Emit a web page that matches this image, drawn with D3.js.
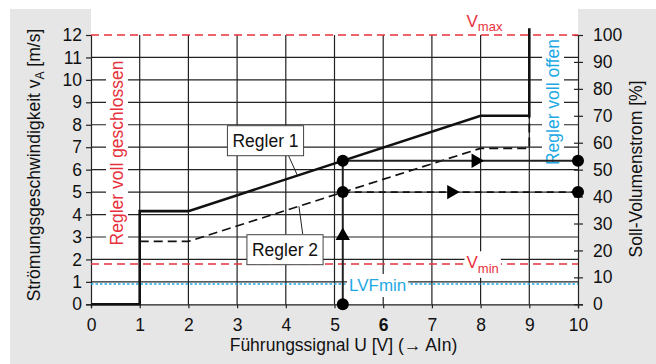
<!DOCTYPE html>
<html lang="de">
<head>
<meta charset="UTF-8">
<title>Regler-Kennlinie</title>
<style>
  body { margin: 0; background: #fff; }
  svg text { font-family: "Liberation Sans", Arial, sans-serif; }
</style>
</head>
<body>
<script src="https://cdn.jsdelivr.net/npm/d3@7"></script>
<div id="chart"></div>
<script>
// values
var signalTicks = d3.range(0, 11);          // U [V]
var speedTicks = d3.range(0, 13);           // v [m/s]
var percentTicks = d3.range(0, 101, 10);    // Soll-Volumenstrom [%]
var regler1U = [0, 1, 1, 2, 8, 9, 9];
var regler1V = [0, 0, 4.15, 4.15, 8.4, 8.4, 12.3];
var regler2U = [1, 2, 8, 9, 9];
var regler2V = [2.8, 2.8, 6.95, 6.95, 8.4];
var vMax = 12, vMin = 1.8, lvfMin = 0.9;
var exampleU = 5.17, exampleV1 = 6.4, exampleV2 = 5.0;

var red = "#e8303c", blue = "#1fa9e4", gridColor = "#222";

var W = 656, H = 364;
var x = d3.scaleLinear().domain([0, 10]).range([91, 578]);
var y = d3.scaleLinear().domain([0, 12]).range([304.3, 35]);
var yR = d3.scaleLinear().domain([0, 100]).range([304.3, 35]);

var svg = d3.select("#chart").append("svg")
    .attr("width", W).attr("height", H);

// backgrounds
svg.append("rect").attr("x", 10).attr("y", 9).attr("width", W - 10).attr("height", H - 9)
    .attr("fill", "#e6e6e6");
svg.append("rect").attr("x", x(0)).attr("y", 9).attr("width", x(10) - x(0)).attr("height", y(0) - 9)
    .attr("fill", "#fff");

// grid
var grid = svg.append("g").attr("stroke", gridColor).attr("stroke-width", 1.2);
grid.selectAll(".gx").data(signalTicks.slice(1, 10)).enter().append("line")
    .attr("x1", d => x(d)).attr("x2", d => x(d))
    .attr("y1", y(0)).attr("y2", y(12));
grid.selectAll(".gy").data(speedTicks.slice(1, 12)).enter().append("line")
    .attr("x1", x(0)).attr("x2", x(10))
    .attr("y1", d => y(d)).attr("y2", d => y(d));

// axes
var fs = "17.5px";
var axL = svg.append("g").attr("transform", "translate(" + x(0) + ",0)")
    .call(d3.axisLeft(y).tickValues(speedTicks).tickSize(5).tickPadding(4));
var axR = svg.append("g").attr("transform", "translate(" + x(10) + ",0)")
    .call(d3.axisRight(yR).tickValues(percentTicks).tickSize(5).tickPadding(10));
axR.selectAll(".tick line").attr("x1", -4);
var axB = svg.append("g").attr("transform", "translate(0," + y(0) + ")")
    .call(d3.axisBottom(x).tickValues(signalTicks).tickSize(4).tickPadding(10));
[axL, axR, axB].forEach(function (a) {
    a.select(".domain").attr("stroke", gridColor).attr("stroke-width", 1.2);
    a.selectAll(".tick line").attr("stroke", gridColor).attr("stroke-width", 1.2);
    a.selectAll("text").attr("font-size", fs).attr("fill", "#111")
        .style("font-family", '"Liberation Sans", Arial, sans-serif');
});
axB.selectAll("text").filter(d => d === 6).attr("font-weight", "bold");

// limit lines
svg.append("line").attr("x1", x(0)).attr("x2", x(10)).attr("y1", y(vMax)).attr("y2", y(vMax))
    .attr("stroke", red).attr("stroke-width", 1.5).attr("stroke-dasharray", "8,5");
svg.append("line").attr("x1", x(0)).attr("x2", x(10)).attr("y1", y(vMin)).attr("y2", y(vMin))
    .attr("stroke", red).attr("stroke-width", 1.5).attr("stroke-dasharray", "8,5");
svg.append("line").attr("x1", x(0)).attr("x2", x(10)).attr("y1", y(lvfMin)).attr("y2", y(lvfMin))
    .attr("stroke", blue).attr("stroke-width", 1.5).attr("stroke-dasharray", "2.5,2");

// helper: text with white box behind it
function boxedText(g, pad) {
    var b = g.node().getBBox();
    var p = g.node().parentNode;
    d3.select(p).insert("rect", function () { return g.node(); })
        .attr("x", b.x - pad).attr("y", b.y - pad)
        .attr("width", b.width + 2 * pad).attr("height", b.height + 2 * pad)
        .attr("fill", "#fff")
        .attr("transform", g.attr("transform"));
}

// limit labels
var vmaxT = svg.append("text").attr("x", 466.5).attr("y", 27).attr("fill", red).attr("font-size", "17px");
vmaxT.append("tspan").text("V");
vmaxT.append("tspan").attr("font-size", "13px").attr("dy", 4).text("max");

var vminT = svg.append("text").attr("x", 466.5).attr("y", 268.3).attr("fill", red).attr("font-size", "17px");
vminT.append("tspan").text("V");
vminT.append("tspan").attr("font-size", "13px").attr("dy", 4.5).text("min");
boxedText(vminT, 2);

var lvfT = svg.append("text").attr("x", 349).attr("y", 291).attr("fill", blue).attr("font-size", "17px")
    .text("LVFmin");
boxedText(lvfT, 2);

var closedT = svg.append("text").attr("transform", "translate(123,153) rotate(-90)")
    .attr("text-anchor", "middle").attr("fill", red).attr("font-size", fs)
    .text("Regler voll geschlossen");
boxedText(closedT, 1);

var openT = svg.append("text").attr("transform", "translate(559,102) rotate(-90)")
    .attr("text-anchor", "middle").attr("fill", blue).attr("font-size", fs)
    .text("Regler voll offen");
boxedText(openT, 1);

// characteristic curves
var line = d3.line().x(d => x(d[0])).y(d => y(d[1]));
svg.append("path").datum(d3.zip(regler2U, regler2V)).attr("d", line)
    .attr("fill", "none").attr("stroke", "#111").attr("stroke-width", 1.8)
    .attr("stroke-dasharray", "9,5");
svg.append("path").datum(d3.zip(regler1U, regler1V)).attr("d", line)
    .attr("fill", "none").attr("stroke", "#111").attr("stroke-width", 2.6);

// example reading
var ex = svg.append("g");
ex.append("line").attr("x1", x(exampleU)).attr("x2", x(exampleU))
    .attr("y1", y(0)).attr("y2", y(exampleV1))
    .attr("stroke", "#222").attr("stroke-width", 2);
ex.append("line").attr("x1", x(exampleU)).attr("x2", x(10))
    .attr("y1", y(exampleV1)).attr("y2", y(exampleV1))
    .attr("stroke", "#222").attr("stroke-width", 2);
ex.append("line").attr("x1", x(exampleU)).attr("x2", x(10))
    .attr("y1", y(exampleV2)).attr("y2", y(exampleV2))
    .attr("stroke", "#111").attr("stroke-width", 1.8).attr("stroke-dasharray", "7,5");

var dots = [[exampleU, 0], [exampleU, exampleV2], [exampleU, exampleV1], [10, exampleV1], [10, exampleV2]];
ex.selectAll("circle").data(dots).enter().append("circle")
    .attr("cx", d => x(d[0])).attr("cy", d => y(d[1])).attr("r", 6).attr("fill", "#000");

var tri = d3.symbol().type(d3.symbolTriangle).size(90);
var arrows = [[exampleU, 3.05, 0], [7.9, exampleV1, 90], [7.4, exampleV2, 90]];
ex.selectAll(".arr").data(arrows).enter().append("path")
    .attr("d", tri)
    .attr("transform", d => "translate(" + x(d[0]) + "," + y(d[1]) + ") rotate(" + d[2] + ")")
    .attr("fill", "#000");

// curve labels
function curveLabel(txt, cx, cy, lx1, ly1, lu, lv) {
    svg.append("line").attr("x1", lx1).attr("y1", ly1).attr("x2", x(lu)).attr("y2", y(lv))
        .attr("stroke", "#222").attr("stroke-width", 1);
    var t = svg.append("text").attr("x", cx).attr("y", cy).attr("text-anchor", "middle")
        .attr("dominant-baseline", "central").attr("font-size", fs).attr("fill", "#111").text(txt);
    var b = t.node().getBBox();
    svg.insert("rect", function () { return t.node(); })
        .attr("x", b.x - 5).attr("y", cy - 15).attr("width", b.width + 10).attr("height", 30)
        .attr("fill", "#fff").attr("stroke", "#444").attr("stroke-width", 1);
}
var r1At = 4.24, r2At = 4.27;
curveLabel("Regler 1", 265.5, 140.7, 288.7, 156, r1At, 4.15 + (r1At - 2) * (8.4 - 4.15) / 6);
curveLabel("Regler 2", 285, 249.7, 302.7, 234, r2At, 2.8 + (r2At - 2) * (6.95 - 2.8) / 6);

// axis titles
var lt = svg.append("text").attr("transform", "translate(39.5,165) rotate(-90)")
    .attr("text-anchor", "middle").attr("font-size", fs).attr("fill", "#111");
lt.append("tspan").text("Strömungsgeschwindigkeit v");
lt.append("tspan").attr("font-size", "12px").attr("dy", 4).text("A");
lt.append("tspan").attr("dy", -4).text(" [m/s]");

svg.append("text").attr("transform", "translate(642,169) rotate(-90)")
    .attr("text-anchor", "middle").attr("font-size", fs).attr("fill", "#111")
    .text("Soll-Volumenstrom [%]");

svg.append("text").attr("x", 343.5).attr("y", 351).attr("text-anchor", "middle")
    .attr("font-size", fs).attr("fill", "#111")
    .text("Führungssignal U [V] (\u2192 AIn)");
</script>
</body>
</html>
